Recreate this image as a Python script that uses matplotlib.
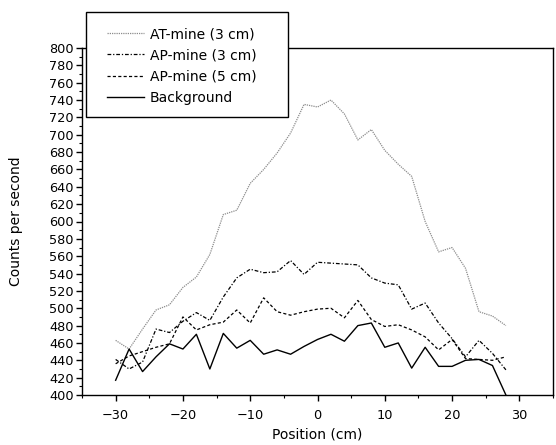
import numpy as np
import matplotlib.pyplot as plt
from matplotlib.ticker import MultipleLocator
from matplotlib.patches import Rectangle

plt.rcParams['font.family'] = ['DejaVu Sans']

# posicoes (cm)
pos = list(range(-30, 30, 2))

at_mine3 = [463, 453, 476, 498, 504, 524, 536, 562, 608, 613,
            644, 660, 679, 702, 735, 732, 740, 724, 694, 706,
            682, 666, 652, 600, 565, 570, 546, 496, 491, 480]
ap_mine3 = [441, 430, 438, 476, 472, 485, 495, 486, 513, 535,
            545, 541, 542, 555, 539, 553, 552, 551, 550, 535,
            529, 527, 499, 506, 483, 465, 444, 463, 448, 429]
ap_mine5 = [436, 445, 450, 455, 459, 490, 475, 481, 484, 498,
            483, 512, 496, 492, 496, 499, 500, 489, 509, 487,
            479, 481, 475, 467, 452, 464, 442, 441, 440, 444]
background = [417, 453, 427, 444, 459, 453, 470, 430, 471, 454,
              463, 447, 452, 447, 456, 464, 470, 462, 480, 483,
              455, 460, 431, 455, 433, 433, 440, 441, 434, 400]

W, H = 556, 445
fig = plt.figure(figsize=(W/100, H/100), dpi=100)
ax = fig.add_axes([82/W, 1-395/H, (553-82)/W, (395-48)/H])

l1, = ax.plot(pos, at_mine3, color='#8c8c8c', lw=0.9, ls=(0, (1, 0.8)), label='AT-mine (3 cm)')
l2, = ax.plot(pos, ap_mine3, color='black', lw=0.9, ls=(0, (3, 1.5, 1, 1.5)), label='AP-mine (3 cm)')
l3, = ax.plot(pos, ap_mine5, color='black', lw=0.9, ls=(0, (2.5, 1.8)), label='AP-mine (5 cm)')
l4, = ax.plot(pos, background, color='black', lw=1.0, label='Background')

ax.set_xlim(-35, 35)
ax.set_ylim(400, 800)
ax.xaxis.set_major_locator(MultipleLocator(10))
ax.xaxis.set_minor_locator(MultipleLocator(5))
ax.yaxis.set_major_locator(MultipleLocator(20))
ax.yaxis.set_minor_locator(MultipleLocator(10))
ax.tick_params(which='major', direction='out', length=4, width=1, labelsize=9.3, pad=2)
ax.tick_params(which='minor', direction='out', length=2, width=0.8)
ax.tick_params(axis='x', pad=6)
for s in ax.spines.values():
    s.set_linewidth(1)

ax.set_xlabel('Position (cm)', fontsize=10, labelpad=4)
ax.set_ylabel('Counts per second', fontsize=10, labelpad=19)

# caixa da legenda (sai por cima do grafico)
box = Rectangle((86/W, 1-117/H), (288-86)/W, (117-12)/H, transform=fig.transFigure,
                facecolor='white', edgecolor='black', lw=1, zorder=2)
fig.add_artist(box)

leg = fig.legend(handles=[l1, l2, l3, l4], loc='upper left',
                 bbox_to_anchor=(107/W, 1-27/H), fontsize=10,
                 frameon=False, handlelength=2.66, labelspacing=0.53,
                 borderpad=0, borderaxespad=0, handletextpad=0.43)
leg.set_zorder(5)

fig.savefig('out.png', dpi=100)
